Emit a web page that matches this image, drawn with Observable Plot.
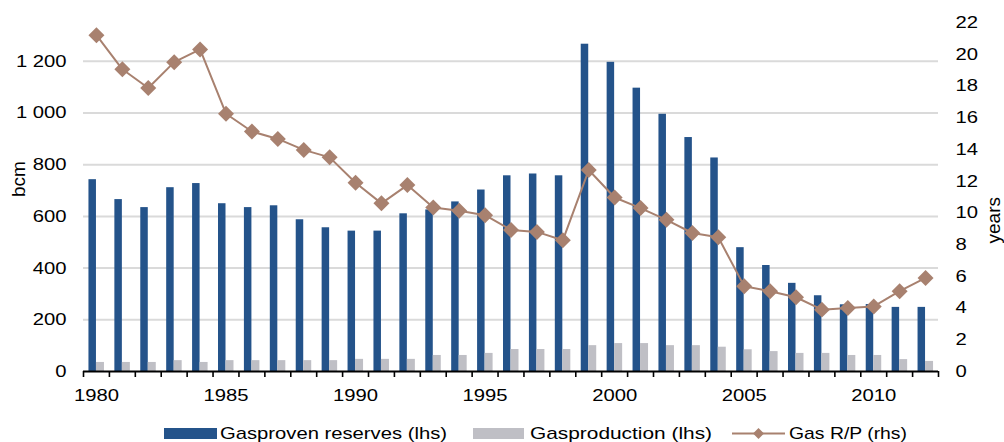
<!DOCTYPE html>
<html><head><meta charset="utf-8">
<script src="https://cdn.jsdelivr.net/npm/d3@7"></script>
<script src="https://cdn.jsdelivr.net/npm/@observablehq/plot@0.6"></script>
<style>
html,body{margin:0;padding:0;background:#fff;}
#chart{width:1004px;height:442px;position:relative;overflow:hidden;font-family:"Liberation Sans",Arial,sans-serif;}
svg{display:block}
</style></head><body><div id="chart"></div>
<script>
const years = [1980,1981,1982,1983,1984,1985,1986,1987,1988,1989,1990,1991,1992,1993,1994,1995,1996,1997,1998,1999,2000,2001,2002,2003,2004,2005,2006,2007,2008,2009,2010,2011,2012];
const reserves = [742,665,634,711,727,649,634,641,587,556,543,543,610,625,656,702,757,764,757,1266,1196,1096,995,905,826,479,410,341,293,258,259,248,248];
const production = [35,35,35,42,35,42,42,42,42,42,47,47,47,62,62,70,85,85,85,100,108,108,100,100,94,84,77,70,70,62,62,46,39];
const ratio = [21.2,19.05,17.87,19.5,20.3,16.25,15.13,14.66,13.97,13.5,11.9,10.6,11.75,10.34,10.13,9.85,8.92,8.8,8.27,12.7,10.97,10.3,9.56,8.73,8.46,5.38,5.06,4.68,3.9,4.0,4.1,5.06,5.9];
const leftTicks = [0,200,400,600,800,1000,1200];
const rightTicks = [0,2,4,6,8,10,12,14,16,18,20,22];
const xTicks = [1980,1985,1990,1995,2000,2005,2010];
const leftTitle = "bcm";
const rightTitle = "years";
const seriesNames = ["Gasproven reserves (lhs)", "Gasproduction (lhs)", "Gas R/P (rhs)"];

const BLUE = "#24538A", GRAY = "#BFBFC5", BROWN = "#A8816F", GRID = "#DADADA";
const W = 1004, H = 415, mL = 83, mR = 66, mT = 22, mB = 44;
const yMax = 1350, rMax = 22, k = yMax / rMax;
const bw = (W - mL - mR) / years.length;
const data = years.map((year, i) => ({year, reserves: reserves[i], production: production[i], ratio: ratio[i]}));
const fmtLeft = d => d3.format(",")(d).replace(",", "\u00a0");

const plot = Plot.plot({
  width: W, height: H, marginLeft: mL, marginRight: mR, marginTop: mT, marginBottom: mB,
  style: {fontFamily: '"Liberation Sans", Arial, sans-serif', fontSize: "17px", color: "#000", background: "#fff", overflow: "visible"},
  x: {type: "band", domain: years, padding: 0, label: null},
  y: {domain: [0, yMax], label: null},
  marks: [
    Plot.ruleY(leftTicks.filter(d => d > 0), {stroke: GRID, strokeWidth: 2}),
    Plot.barY(data, {x: "year", y: "reserves", fill: BLUE, insetLeft: bw / 2 - 7.5, insetRight: bw / 2}),
    Plot.barY(data, {x: "year", y: "production", fill: GRAY, insetLeft: bw / 2, insetRight: bw / 2 - 8}),
    Plot.ruleY([0], {stroke: "#000", strokeWidth: 2}),
    Plot.ruleX(years, {x: d => d, y1: 0, y2: 0, dx: -bw / 2, insetBottom: -6, stroke: "#000", strokeWidth: 1.6}),
    Plot.ruleX(years.slice(-1), {x: d => d, y1: 0, y2: 0, dx: bw / 2, insetBottom: -6, stroke: "#000", strokeWidth: 1.6}),
    Plot.line(data, {x: "year", y: d => d.ratio * k, stroke: BROWN, strokeWidth: 2}),
    Plot.dot(data, {x: "year", y: d => d.ratio * k, symbol: "diamond2", r: 7.2, fill: BROWN, stroke: null}),
    Plot.axisX(xTicks, {tickSize: 0, tickPadding: 17, tickFormat: d => String(d), label: null}),
    Plot.axisY(leftTicks, {anchor: "left", tickSize: 0, tickPadding: 17, tickFormat: fmtLeft, label: null}),
    Plot.axisY(rightTicks.map(v => v * k), {anchor: "right", tickSize: 0, tickPadding: 17, tickFormat: d => String(Math.round(d / k)), label: null}),
    Plot.text([leftTitle], {frameAnchor: "left", dx: -65, rotate: -90, fontSize: 19}),
    Plot.text([rightTitle], {frameAnchor: "right", dx: 55, rotate: -90, fontSize: 19})
  ]
});
const chart = document.getElementById("chart");
chart.appendChild(plot);

// horizontal stretch of text to match reference glyph widths
d3.select(plot).selectAll("text").each(function() {
  const t = this.textContent;
  if (t === leftTitle || t === rightTitle) return;
  const w = this.getComputedTextLength();
  this.setAttribute("textLength", w * 1.19);
  this.setAttribute("lengthAdjust", "spacingAndGlyphs");
});

// legend
const leg = d3.select(chart).append("svg").attr("width", W).attr("height", 442 - H)
  .style("font-family", '"Liberation Sans", Arial, sans-serif').style("font-size", "17px");
const items = [
  {type: "bar", color: BLUE, x0: 164, x1: 217, tx: 220, tw: 227, name: seriesNames[0]},
  {type: "bar", color: GRAY, x0: 473, x1: 524, tx: 530, tw: 182, name: seriesNames[1]},
  {type: "line", color: BROWN, x0: 732, x1: 785, tx: 789, tw: 118, name: seriesNames[2]}
];
const cy = 18.5;
items.forEach(it => {
  if (it.type === "bar") {
    leg.append("rect").attr("x", it.x0).attr("y", cy - 5.5).attr("width", it.x1 - it.x0).attr("height", 11).attr("fill", it.color);
  } else {
    leg.append("line").attr("x1", it.x0).attr("x2", it.x1).attr("y1", cy).attr("y2", cy).attr("stroke", it.color).attr("stroke-width", 2);
    const m = (it.x0 + it.x1) / 2, r = 5.5;
    leg.append("path").attr("d", `M${m},${cy - r}L${m + r},${cy}L${m},${cy + r}L${m - r},${cy}Z`).attr("fill", it.color);
  }
  leg.append("text").attr("x", it.tx).attr("y", cy + 5.9).attr("textLength", it.tw).attr("lengthAdjust", "spacingAndGlyphs").text(it.name);
});
</script></body></html>
